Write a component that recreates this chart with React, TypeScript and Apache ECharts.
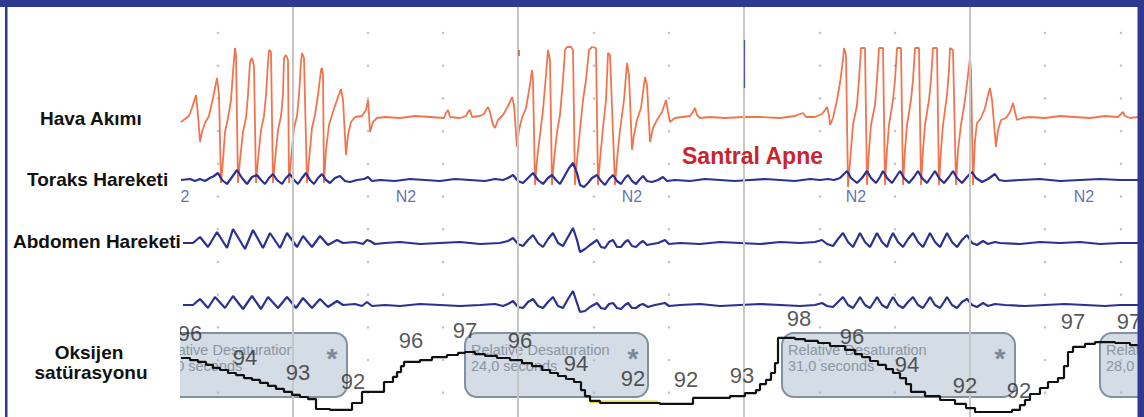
import React, { useEffect, useRef } from "react";
import * as echarts from "echarts";

// x values are sample indices of the recording (7.52 samples / second)
const X_MIN = 180;
const X_MAX = 1138;
const EPOCH_LINES = [293, 518, 744, 970];
const DOT_COLUMNS = [218, 368, 443, 594, 669, 820, 895, 1045, 1121];
const DOT_ROWS = [0, 1, 2, 3, 4, 5, 6, 7, 8, 9, 10, 11];

const CHANNEL_LABELS = ["Hava Akımı", "Toraks Hareketi", "Abdomen Hareketi"];
const SPO2_LABEL_LINES = ["Oksijen", "satürasyonu"];
const EVENT_LABEL = "Santral Apne";

const AIRFLOW: [number, number][] = [
  [181,-5],[185,-2],[189,1],[192,9],[196,22],[198,2],[200,-25],[202,-15],[205,-6],[209,1],[213,19],[217,39],[219,22],[221,-66],
  [223,-43],[225,-15],[228,-1],[231,17],[233,45],[235,69],[236,62],[238,-66],
  [240,-43],[243,-15],[246,-1],[248,22],[250,55],[252,59],[254,51],[256,-66],
  [258,-43],[261,-13],[264,1],[266,22],[268,55],[269,67],[271,65],[273,-66],
  [275,-43],[278,-13],[281,1],[283,22],[284,59],[286,62],[288,57],[289,-66],
  [291,-43],[294,-11],[297,1],[299,22],[301,55],[302,64],[304,59],[307,-66],
  [309,-43],[312,-11],[315,2],[318,22],[321,47],[322,49],[323,42],[324,-66],
  [326,-33],[329,-8],[333,5],[337,17],[341,28],[343,17],[346,-38],[348,-18],[351,-5],[355,0],[362,1],[366,7],[368,17],[369,2],[370,-15],[373,-5],[377,-1],[385,0],
  [400,-1],[415,1],[430,0],[444,-1],[446,4],[448,7],[450,0],[460,-1],[466,1],[468,5],[470,7],[472,0],[480,1],[484,3],[486,7],[488,10],[490,5],[493,-8],[495,-11],[498,-3],[503,2],[507,9],[510,15],[512,20],[514,12],[517,-30],
  [519,-13],[522,-1],[526,9],[530,32],[532,47],[533,37],[535,-68],
  [537,-43],[540,-18],[543,7],[546,42],[548,67],[550,57],[552,-68],
  [554,-43],[557,-15],[560,2],[563,37],[565,67],[567,70],[571,70],[573,67],[575,-68],
  [577,-43],[580,-13],[583,17],[586,37],[589,67],[592,70],[596,69],[598,-68],
  [600,-43],[603,-11],[606,17],[608,64],[610,62],[615,-68],
  [617,-43],[620,-13],[624,17],[627,54],[629,42],[632,-33],
  [634,-18],[637,-3],[641,9],[645,40],[647,32],[650,-25],
  [653,-11],[657,-3],[662,5],[666,17],[668,5],[670,-5],[675,-1],[682,0],[690,1],[693,5],[695,9],[697,2],[700,-1],[710,0],[725,-1],[744,0],
  [760,0],[780,-1],[795,1],[800,3],[803,4],[806,0],[815,0],[822,3],[825,7],[827,10],[829,2],[830,-8],[833,-1],[837,17],[840,34],[843,57],[844,69],[846,62],[848,-70],
  [851,-33],[853,-8],[857,12],[859,37],[861,69],[865,69],[867,-68],
  [869,-33],[871,-8],[875,12],[877,37],[879,69],[883,69],[885,-68],
  [887,-33],[889,-8],[893,17],[895,37],[897,69],[901,69],[903,-68],
  [905,-33],[907,-8],[911,17],[913,37],[915,69],[919,69],[921,-68],
  [923,-33],[925,-8],[929,17],[931,37],[933,69],[937,69],[939,-68],
  [941,-33],[943,-8],[947,22],[949,47],[950,69],[953,67],[956,-68],
  [958,-33],[961,-8],[965,17],[968,42],[970,59],[971,47],[973,-68],
  [975,-23],[977,-6],[981,-1],[985,9],[988,22],[990,29],[992,17],[996,-30],[998,-13],[1001,-3],[1006,-1],[1010,5],[1013,14],[1015,5],[1017,-3],[1022,-1],[1030,0],[1045,-1],[1060,1],[1075,0],[1090,-1],[1105,1],[1118,0],[1121,3],[1123,5],[1125,1],[1130,-1],[1138,0],
];

const THORAX: [number, number][] = [
  [181,0],[190,1],[195,-1],[200,1],[205,-1],[210,2],[214,4],[218,7],[222,0],[227,-4],[232,3],[237,10],[242,2],[247,-4],[252,3],[257,5],[261,0],[265,-4],[269,2],[273,6],[277,0],[282,-4],[286,2],[290,6],[294,0],[298,-4],[302,2],[306,7],[310,0],[314,-4],[318,2],[322,6],[326,0],[330,-3],[335,2],[340,4],[345,-1],[350,-2],[357,0],[364,1],[368,3],[372,-1],[380,0],
  [395,-1],[410,1],[425,0],[440,-1],[455,1],[470,0],[485,-1],[495,1],[503,0],[508,2],[513,5],[518,-1],[523,-3],[528,2],[533,7],[538,0],[543,-4],[548,2],[552,5],[556,0],[560,-4],[564,3],[569,12],[573,17],[577,7],[580,-5],[584,-7],[588,-3],[592,2],[597,5],[601,-1],[605,-5],[609,1],[613,5],[617,-1],[621,-4],[625,2],[628,5],[632,-1],[636,-4],[640,1],[643,4],[647,-1],[652,-2],[658,0],[663,3],[667,-1],[675,0],
  [690,-1],[705,1],[720,0],[735,-1],[750,0],[765,1],[780,0],[795,-1],[810,1],[820,0],[828,1],[834,0],[840,2],[844,6],[847,9],[851,2],[857,-3],[862,2],[867,9],[871,2],[876,-3],[880,3],[883,9],[887,2],[892,-3],[896,3],[900,9],[904,2],[909,-3],[914,3],[918,9],[922,2],[927,-3],[931,3],[935,9],[939,2],[944,-3],[949,3],[953,9],[957,2],[962,-3],[967,3],[972,8],[976,2],[982,-2],[988,1],[995,6],[999,0],[1005,-1],[1020,0],[1040,1],[1060,-1],[1080,0],[1100,1],[1120,0],[1138,0],
];

const ABDOMEN: [number, number][] = [
  [183,0],[193,0],[200,6],[208,-4],[217,11],[227,-5],[233,14],[245,-6],[253,13],[263,-5],[270,10],[280,-5],[287,10],[297,-4],[303,7],[312,-4],[320,7],[328,-2],[337,3],[343,0],[355,1],[363,-1],[367,3],[370,2],[375,-1],[385,0],
  [400,1],[420,-1],[440,0],[460,1],[480,-1],[500,0],[508,2],[513,5],[518,-1],[523,-3],[528,3],[533,8],[538,0],[543,-4],[548,4],[553,10],[558,0],[563,-3],[568,6],[573,15],[577,3],[580,-9],[585,-6],[590,-2],[597,3],[601,-4],[605,-5],[609,1],[613,3],[617,-4],[621,-4],[625,1],[628,3],[632,-3],[636,-4],[640,0],[643,2],[647,-2],[652,-1],[658,0],[665,3],[669,-1],[680,0],
  [700,-1],[720,1],[740,0],[760,-1],[780,1],[800,0],[815,1],[822,3],[827,-1],[833,-3],[838,4],[843,10],[848,1],[853,-4],[857,4],[860,10],[865,1],[870,-4],[874,4],[877,10],[882,1],[887,-4],[890,4],[893,10],[898,1],[903,-4],[908,4],[913,10],[918,1],[923,-4],[927,4],[930,10],[935,1],[940,-4],[944,4],[947,10],[952,1],[957,-4],[962,3],[967,8],[972,0],[977,-2],[983,2],[988,-1],[995,1],[1000,0],[1020,-1],[1040,1],[1060,0],[1080,1],[1100,-1],[1120,0],[1138,0],
];

const EFFORT_SUM: [number, number][] = [
  [183,0],[193,0],[200,6],[208,-3],[215,8],[225,-3],[233,9],[243,-4],[252,9],[261,-4],[268,8],[278,-3],[287,8],[296,-3],[303,7],[312,-3],[320,6],[328,-2],[337,4],[343,0],[355,1],[362,-1],[367,3],[372,-1],[385,0],
  [400,-1],[420,1],[440,0],[460,-1],[480,0],[495,1],[503,-1],[508,1],[513,4],[518,-2],[523,-3],[528,3],[533,6],[538,-1],[543,-3],[548,3],[553,8],[558,-1],[563,-3],[568,6],[573,14],[577,2],[580,-7],[585,-6],[590,-2],[597,2],[601,-3],[605,-4],[609,1],[613,2],[617,-3],[621,-4],[625,0],[628,2],[632,-3],[636,-3],[640,0],[643,1],[648,-2],[655,0],[665,2],[669,-1],[680,0],
  [700,1],[720,-1],[740,0],[760,1],[780,0],[800,-1],[815,0],[822,2],[827,-1],[833,-2],[838,3],[843,8],[848,0],[853,-3],[857,3],[860,8],[865,0],[870,-3],[874,3],[877,8],[882,0],[887,-3],[890,3],[893,8],[898,0],[903,-3],[908,3],[913,8],[918,0],[923,-3],[927,3],[930,8],[935,0],[940,-3],[944,3],[947,8],[952,0],[957,-3],[962,3],[967,6],[972,0],[977,-2],[983,2],[988,-1],[995,1],[1005,0],[1025,-1],[1045,0],[1065,1],[1085,0],[1105,-1],[1120,0],[1138,0],
];

// SpO2 (%) — step function: value holds from each sample until the next
const SPO2: [number, number][] = [
  [181,96.25],[190,96.08],[198,95.92],[206,95.67],[213,95.42],[220,95.25],[228,95.0],[236,94.83],[244,94.58],[252,94.42],[260,94.17],[268,93.92],[276,93.67],[284,93.42],[292,93.17],[300,93.0],[308,92.83],[316,92.0],[330,91.92],[352,92.5],[362,93.42],[384,94.25],[393,94.67],[397,95.08],[401,95.58],[404,95.92],[420,96.08],[432,96.33],[447,96.5],[458,96.67],[465,96.75],
  [475,96.58],[485,96.42],[497,96.25],[510,96.08],[522,95.83],[532,95.58],[542,95.25],[550,95.0],[558,94.75],[566,94.5],[574,94.25],[581,93.58],[585,93.08],[590,92.67],[600,92.5],[660,92.42],[693,92.92],[730,93.08],[745,93.33],[756,93.58],[760,94.08],[766,94.42],[771,95.0],[775,95.83],[778,97.92],[795,97.83],[805,97.67],[818,97.5],[830,97.25],[845,96.92],[855,96.58],[862,96.33],[870,96.0],[878,95.67],[886,95.33],[893,95.0],[900,94.58],[906,94.08],[911,93.42],[925,93.08],[940,92.75],[955,92.42],[966,92.08],[975,91.75],[1012,91.92],[1020,92.33],[1025,92.75],[1030,93.25],[1040,93.75],[1048,94.25],[1058,94.58],[1064,95.58],[1068,96.75],[1073,97.17],[1085,97.42],[1095,97.58],[1115,97.5],[1130,97.33],[1138,97.33],
];
const SPO2_ARTIFACT: [number, number][] = [[590, 92.6], [658, 92.6]];

// SpO2 reading labels: [sample, level, text]
const SPO2_LABELS: [number, number, string][] = [
  [190, 98.33, "96"], [245, 96.25, "94"], [298, 95.0, "93"], [353, 94.25, "92"],
  [411, 97.67, "96"], [465, 98.5, "97"], [520, 97.67, "96"], [576, 95.83, "94"],
  [633, 94.5, "92"], [686, 94.42, "92"], [742, 94.83, "93"], [799, 99.58, "98"],
  [852, 98.08, "96"], [907, 95.67, "94"], [965, 93.92, "92"], [1019, 93.58, "92"],
  [1073, 99.25, "97"], [1129, 99.25, "97"],
];

// Sleep stage annotations: [sample, level, text]
const STAGE_LABELS: [number, number, string][] = [
  [185, -16, "2"], [406, -16, "N2"], [632, -16, "N2"], [856, -16, "N2"], [1084, -16, "N2"],
];

// Relative desaturation events: [start sample, end sample, duration text]
const DESAT_EVENTS: [number, number, string][] = [
  [150, 347, "20,0 seconds"],
  [465, 648, "24,0 seconds"],
  [782, 1015, "31,0 seconds"],
  [1100, 1200, "28,0 seconds"],
];
const DESAT_TITLE = "Relative Desaturation";

const FONT = "'Liberation Sans', Arial, Helvetica, sans-serif";

export default function App() {
  const ref = useRef<HTMLDivElement>(null);

  useEffect(() => {
    if (!ref.current) return;
    const chart = echarts.init(ref.current, undefined, { renderer: "svg" });

    const grids = [
      { left: 180, right: 6, top: 7, height: 410 },
      { left: 180, right: 6, top: 40, height: 160 },
      { left: 180, right: 6, top: 160, height: 40 },
      { left: 180, right: 6, top: 223, height: 40 },
      { left: 180, right: 6, top: 285, height: 40 },
      { left: 180, right: 6, top: 300, height: 117 },
    ];
    const yRanges: [number, number, boolean][] = [
      [-0.795, 11.743, true],
      [-83, 77, false],
      [-20, 20, false],
      [-20, 20, false],
      [-20, 20, false],
      [91.3333, 101.0833, false],
    ];

    const dots: [number, number][] = [];
    DOT_COLUMNS.forEach((c) => DOT_ROWS.forEach((r) => dots.push([c, r])));

    const lineBase = (idx: number, data: [number, number][], color: string, width: number, z: number, extra: any = {}) => ({
      type: "line",
      xAxisIndex: idx,
      yAxisIndex: idx,
      data,
      symbol: "none",
      showSymbol: false,
      smooth: false,
      silent: true,
      z,
      lineStyle: { color, width, ...(extra.lineStyle || {}) },
      ...extra.rest,
    });

    const option: any = {
      animation: false,
      backgroundColor: "#ffffff",
      grid: grids.map((g) => ({ ...g, containLabel: false, show: false })),
      xAxis: grids.map((_, i) => ({ type: "value", gridIndex: i, min: X_MIN, max: X_MAX, show: false })),
      yAxis: grids.map((_, i) => ({
        type: "value",
        gridIndex: i,
        min: yRanges[i][0],
        max: yRanges[i][1],
        inverse: yRanges[i][2],
        show: false,
      })),
      series: [
        {
          type: "scatter",
          xAxisIndex: 0,
          yAxisIndex: 0,
          data: dots,
          symbol: "circle",
          symbolSize: 2.6,
          itemStyle: { color: "#b5b5b5" },
          silent: true,
          z: 1,
          markLine: {
            silent: true,
            symbol: ["none", "none"],
            label: { show: false },
            lineStyle: { color: "#c6c6c6", width: 2, type: "solid" },
            data: EPOCH_LINES.map((v) => ({ xAxis: v })),
          },
        },
        lineBase(1, AIRFLOW, "#f0653c", 1.8, 3, {
          lineStyle: { opacity: 0.9 },
          rest: {
            markLine: {
              silent: true,
              symbol: ["none", "none"],
              label: { show: false },
              data: [
                [{ coord: [744, 77], lineStyle: { color: "#4a55c0", width: 1.2, type: "solid" } }, { coord: [744, 29] }],
                [{ coord: [519, 67], lineStyle: { color: "#e84a2a", width: 1.5, type: "solid" } }, { coord: [519, 61] }],
              ],
            },
          },
        }),
        lineBase(2, THORAX, "#2c3090", 2.2, 4),
        lineBase(3, ABDOMEN, "#2c3090", 2.2, 4),
        lineBase(4, EFFORT_SUM, "#2c3090", 2.2, 4),
        lineBase(5, SPO2_ARTIFACT, "#e6de1e", 2.5, 4),
        lineBase(5, SPO2, "#111111", 2.2, 5, { rest: { step: "end" } }),
        {
          type: "scatter",
          xAxisIndex: 5,
          yAxisIndex: 5,
          data: SPO2_LABELS.map((d) => ({ value: [d[0], d[1]], name: d[2] })),
          symbolSize: 0,
          clip: false,
          silent: true,
          z: 6,
          label: {
            show: true,
            position: "inside",
            formatter: (p: any) => p.name,
            fontFamily: FONT,
            fontSize: 22,
            color: "#2b2b2b",
          },
        },
        {
          type: "scatter",
          xAxisIndex: 2,
          yAxisIndex: 2,
          data: STAGE_LABELS.map((d) => ({ value: [d[0], d[1]], name: d[2] })),
          symbolSize: 0,
          clip: false,
          silent: true,
          z: 6,
          label: {
            show: true,
            position: "inside",
            formatter: (p: any) => p.name,
            fontFamily: FONT,
            fontSize: 16,
            color: "#3c4a9e",
          },
        },
      ],
    };

    chart.setOption(option);

    const toPx = (x: number, y: number): number[] =>
      chart.convertToPixel({ gridIndex: 5 } as any, [x, y]) as number[];

    const graphic: any[] = [];
    const boxTop = 98.33;
    const boxBottom = 93.0;
    DESAT_EVENTS.forEach(([s, e, dur]) => {
      const a = toPx(s, boxTop);
      const b = toPx(e, boxBottom);
      graphic.push({
        type: "rect",
        z: 1,
        silent: true,
        shape: { x: a[0], y: a[1], width: b[0] - a[0], height: b[1] - a[1], r: 12 },
        style: { fill: "rgba(205,214,224,0.85)", stroke: "#8290a0", lineWidth: 2 },
      });
      graphic.push({
        type: "text",
        z: 2,
        silent: true,
        x: a[0] + 6,
        y: a[1] + 17,
        style: { text: DESAT_TITLE, font: `14.5px ${FONT}`, fill: "#8a96a4", align: "left", verticalAlign: "middle", textAlign: "left", textVerticalAlign: "middle" },
      });
      graphic.push({
        type: "text",
        z: 2,
        silent: true,
        x: a[0] + 6,
        y: a[1] + 33,
        style: { text: dur, font: `14.5px ${FONT}`, fill: "#8a96a4", align: "left", verticalAlign: "middle", textAlign: "left", textVerticalAlign: "middle" },
      });
      graphic.push({
        type: "text",
        z: 2,
        silent: true,
        x: b[0] - 15,
        y: a[1] + 25,
        style: { text: "*", font: `bold 28px ${FONT}`, fill: "#7b889a", align: "center", verticalAlign: "middle", textAlign: "center", textVerticalAlign: "middle" },
      });
    });

    // white margin hiding the clipped part of the first event box
    graphic.push({ type: "rect", z: 50, silent: true, shape: { x: 7, y: 320, width: 173, height: 90 }, style: { fill: "#ffffff" } });

    const labelStyle = (text: string, align: string) => ({
      text,
      font: `bold 19px ${FONT}`,
      fill: "#111111",
      align,
      verticalAlign: "middle",
      textAlign: align,
      textVerticalAlign: "middle",
    });
    graphic.push({ type: "text", z: 60, silent: true, x: 40, y: 118, style: labelStyle(CHANNEL_LABELS[0], "left") });
    graphic.push({ type: "text", z: 60, silent: true, x: 27, y: 179, style: labelStyle(CHANNEL_LABELS[1], "left") });
    graphic.push({ type: "text", z: 60, silent: true, x: 13, y: 241, style: labelStyle(CHANNEL_LABELS[2], "left") });
    graphic.push({ type: "text", z: 60, silent: true, x: 89, y: 352, style: labelStyle(SPO2_LABEL_LINES[0], "center") });
    graphic.push({ type: "text", z: 60, silent: true, x: 91, y: 372, style: labelStyle(SPO2_LABEL_LINES[1], "center") });
    graphic.push({
      type: "text",
      z: 60,
      silent: true,
      x: 682,
      y: 156,
      style: { text: EVENT_LABEL, font: `bold 23px ${FONT}`, fill: "#c9252c", align: "left", verticalAlign: "middle", textAlign: "left", textVerticalAlign: "middle" },
    });

    // frame
    const frame = "#2e3990";
    graphic.push({ type: "rect", z: 100, silent: true, shape: { x: 0, y: 0, width: 1144, height: 7 }, style: { fill: frame } });
    graphic.push({ type: "rect", z: 100, silent: true, shape: { x: 5, y: 0, width: 2.5, height: 417 }, style: { fill: frame } });
    graphic.push({ type: "rect", z: 100, silent: true, shape: { x: 1137.5, y: 0, width: 6.5, height: 417 }, style: { fill: frame } });

    chart.setOption({ graphic });

    return () => chart.dispose();
  }, []);

  return (
    <div
      ref={ref}
      style={{ position: "fixed", left: 0, top: 0, width: 1144, height: 417, background: "#ffffff" }}
    />
  );
}
